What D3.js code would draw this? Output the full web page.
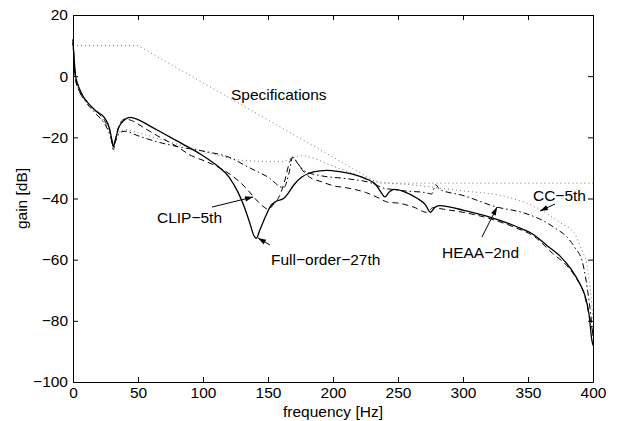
<!DOCTYPE html>
<html>
<head>
<meta charset="utf-8">
<script src="https://cdn.jsdelivr.net/npm/d3@7"></script>
<style>
  body { margin: 0; background: #fff; }
  text { font-family: "Liberation Sans", Arial, sans-serif; }
</style>
</head>
<body>
<div id="chart"></div>
<script>
// axis ticks
const xTicks = [0, 50, 100, 150, 200, 250, 300, 350, 400];
const yTicks = [-100, -80, -60, -40, -20, 0, 20];

// [frequency Hz, gain dB]
const specData = [[0, 10], [50, 10], [235, -35], [400, -35]];

const fullData = [[0, 11], [1, 5], [2, 0], [4, -3], [7, -6], [12, -9], [18, -11.5], [24, -13.5],
  [28, -17], [30, -21], [31, -23], [32.5, -21], [35, -17], [39, -14.5], [44, -13.5], [50, -14.2],
  [60, -16.5], [75, -20], [90, -23.5], [100, -26], [110, -29], [120, -33], [127, -38], [132, -43],
  [136, -48], [139, -52], [141, -53], [144, -50], [148, -46], [152, -42.5], [156, -41], [162, -40],
  [166, -38], [170, -35.5], [176, -33], [185, -31.3], [195, -30.8], [205, -31.2], [215, -32],
  [225, -33.5], [233, -35.5], [237, -38], [240, -39.5], [243, -38], [247, -37], [255, -37.8],
  [265, -40], [271, -42], [275, -44.5], [278, -43], [282, -42.3], [290, -42.8], [300, -43.8],
  [320, -46], [340, -49], [355, -52], [365, -55.5], [375, -59], [383, -63], [390, -68],
  [394, -72], [397, -78], [399, -86], [400, -88]];

const clipData = [[0, 12], [1, 4], [2, -1], [5, -5], [10, -8], [18, -11.5], [25, -15], [29, -19],
  [31, -24], [33, -20], [36, -15.5], [40, -14], [45, -14.5], [55, -17], [65, -19.5], [80, -23],
  [91, -26], [100, -27.5], [115, -30.5], [128, -34.5], [134, -37], [140, -40], [146, -42.5],
  [150, -43.5], [155, -41.5], [159, -39], [163, -34], [166, -29], [169, -26.5], [172, -28],
  [176, -30.5], [182, -33], [191, -34.5], [200, -35.8], [213, -36.7], [225, -38], [236, -40],
  [242, -41.2], [250, -41.5], [262, -42.8], [272, -44.5], [277, -43], [285, -43.5], [300, -44.5],
  [320, -46.5], [340, -49.5], [355, -52.5], [369, -58], [380, -62], [387, -66], [393, -71],
  [397, -78], [400, -84]];

const heaaData = [[0, 12], [1, 3], [2, -1], [5, -5], [10, -8.5], [18, -12.5], [25, -16], [29, -20],
  [31, -23], [33, -21], [36, -18.5], [40, -18], [50, -19.5], [65, -21.5], [80, -23], [100, -24.5],
  [120, -26.5], [136, -30], [150, -33], [162, -36.5], [166, -32], [169, -26.5], [172, -28],
  [178, -31], [190, -32.5], [210, -33.5], [230, -35], [238, -36.5], [245, -37], [257, -37.6],
  [270, -38], [276, -38.5], [279, -35.5], [282, -37], [300, -39], [326, -42.8], [345, -44.5],
  [359, -46.7], [372, -50], [380, -52.6], [386, -56], [392, -61], [396, -70.5], [398, -77], [400, -85]];

const ccData = [[0, 12], [2, -1], [5, -5], [10, -8], [20, -13], [28, -18], [31, -22], [34, -19],
  [40, -17.5], [50, -18.5], [70, -21], [100, -24.5], [130, -27.5], [160, -28], [170, -26.5],
  [175, -26], [200, -29.4], [220, -32.5], [235, -34.5], [260, -35.5], [280, -36.5], [300, -37.5],
  [334, -39.5], [359, -43.5], [375, -48], [385, -51], [392, -57.5], [395, -61], [398, -70], [400, -80]];

// annotations: label, text anchor point, arrow tail, arrow tip (data coords)
const notes = [
  { label: "Specifications", at: [121.5, -7.8] },
  { label: "CLIP\u22125th", at: [64.6, -48], tail: [106.9, -42.8], tip: [138.5, -39.5] },
  { label: "Full\u2212order\u221227th", at: [152.3, -61.7], tail: [151.5, -55.2], tip: [142.3, -52.9] },
  { label: "HEAA\u22122nd", at: [283.8, -59.5], tail: [314.6, -52.6], tip: [326.2, -42.8] },
  { label: "CC\u22125th", at: [353.8, -40.8], tail: [370.8, -41.8], tip: [359.2, -44.1] }
];

const W = 617, H = 421;
const margin = { top: 15, right: 24, bottom: 39, left: 73 };
const fontSize = 15.5;

const svg = d3.select("#chart").append("svg")
  .attr("width", W).attr("height", H);

const x = d3.scaleLinear().domain([0, 400]).range([margin.left, W - margin.right]);
const y = d3.scaleLinear().domain([-100, 20]).range([H - margin.bottom, margin.top]);

// curves
const line = d3.line().x(d => x(d[0])).y(d => y(d[1])).curve(d3.curveMonotoneX);
const straight = d3.line().x(d => x(d[0])).y(d => y(d[1]));

const series = [
  { data: specData, gen: straight, stroke: "#777", width: 1, dash: "1,3" },
  { data: ccData, gen: line, stroke: "#777", width: 1, dash: "1,3" },
  { data: heaaData, gen: line, stroke: "#000", width: 1, dash: "6,3,1.5,3" },
  { data: clipData, gen: line, stroke: "#000", width: 1, dash: "6,4" },
  { data: fullData, gen: line, stroke: "#000", width: 1.3, dash: null }
];

svg.append("g").selectAll("path")
  .data(series)
  .join("path")
  .attr("d", s => s.gen(s.data))
  .attr("fill", "none")
  .attr("stroke", s => s.stroke)
  .attr("stroke-width", s => s.width)
  .attr("stroke-dasharray", s => s.dash);

// axes, ticks pointing inward on all four sides
const axBottom = svg.append("g")
  .attr("transform", `translate(0,${y(-100)})`)
  .call(d3.axisBottom(x).tickValues(xTicks).tickSizeInner(-5).tickSizeOuter(0).tickPadding(5));
const axTop = svg.append("g")
  .attr("transform", `translate(0,${y(20)})`)
  .call(d3.axisTop(x).tickValues(xTicks).tickSizeInner(-5).tickSizeOuter(0).tickFormat(""));
const axLeft = svg.append("g")
  .attr("transform", `translate(${x(0)},0)`)
  .call(d3.axisLeft(y).tickValues(yTicks).tickSizeInner(-5).tickSizeOuter(0).tickPadding(5));
const axRight = svg.append("g")
  .attr("transform", `translate(${x(400)},0)`)
  .call(d3.axisRight(y).tickValues(yTicks).tickSizeInner(-5).tickSizeOuter(0).tickFormat(""));

[axBottom, axTop, axLeft, axRight].forEach(g => {
  g.select(".domain").attr("stroke", "#000").attr("stroke-width", 1);
  g.selectAll(".tick line").attr("stroke", "#000");
  g.selectAll("text").attr("font-size", fontSize).attr("fill", "#000")
    .style("font-family", "'Liberation Sans', Arial, sans-serif");
});

// axis titles
svg.append("text")
  .attr("x", (x(0) + x(400)) / 2).attr("y", H - 4)
  .attr("text-anchor", "middle").attr("font-size", fontSize)
  .text("frequency [Hz]");
svg.append("text")
  .attr("transform", `translate(27,${(y(20) + y(-100)) / 2}) rotate(-90)`)
  .attr("text-anchor", "middle").attr("font-size", fontSize)
  .text("gain [dB]");

// annotations with arrows
const ann = svg.append("g");
ann.selectAll("text")
  .data(notes)
  .join("text")
  .attr("x", d => x(d.at[0])).attr("y", d => y(d.at[1]))
  .attr("font-size", fontSize)
  .text(d => d.label);

const arrows = notes.filter(d => d.tip);
ann.selectAll("line")
  .data(arrows)
  .join("line")
  .attr("x1", d => x(d.tail[0])).attr("y1", d => y(d.tail[1]))
  .attr("x2", d => x(d.tip[0])).attr("y2", d => y(d.tip[1]))
  .attr("stroke", "#000").attr("stroke-width", 1);

ann.selectAll("path.head")
  .data(arrows)
  .join("path")
  .attr("class", "head")
  .attr("d", d => {
    const x1 = x(d.tail[0]), y1 = y(d.tail[1]);
    const x2 = x(d.tip[0]), y2 = y(d.tip[1]);
    const a = Math.atan2(y2 - y1, x2 - x1);
    const len = 8, half = 2.6;
    const bx = x2 - len * Math.cos(a), by = y2 - len * Math.sin(a);
    const px = -Math.sin(a) * half, py = Math.cos(a) * half;
    return `M${x2},${y2}L${bx + px},${by + py}L${bx - px},${by - py}Z`;
  })
  .attr("fill", "#000");
</script>
</body>
</html>
